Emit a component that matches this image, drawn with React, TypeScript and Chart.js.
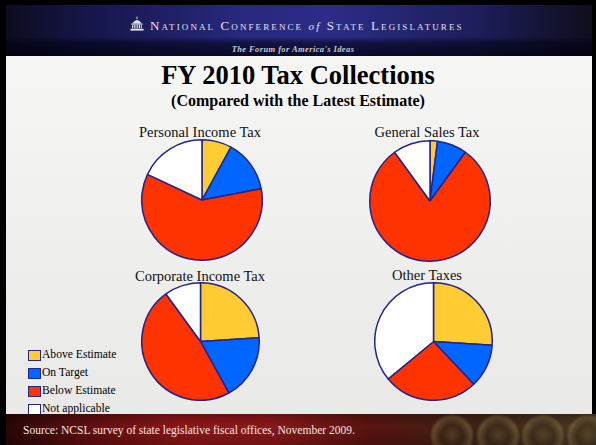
import React, { useEffect, useRef } from 'react';
import { Chart, registerables } from 'chart.js';
Chart.register(...registerables);

const categories = ['Above Estimate', 'On Target', 'Below Estimate', 'Not applicable'];
const sliceColors = ['#FFCC33', '#0066FF', '#FF3300', '#FFFFFF'];
const pieTitles = ['Personal Income Tax', 'General Sales Tax', 'Corporate Income Tax', 'Other Taxes'];
const personalIncome = [4, 7, 30, 9];
const generalSales = [1, 4, 40, 5];
const corporateIncome = [12, 9, 24, 5];
const otherTaxes = [13, 6, 13, 18];

const SERIF = '"Times New Roman", "Liberation Serif", serif';

function Pie({ values, left, top, size }: { values: number[]; left: number; top: number; size: number }) {
  const ref = useRef<HTMLCanvasElement>(null);
  useEffect(() => {
    if (!ref.current) return;
    const chart = new Chart(ref.current, {
      type: 'pie',
      data: {
        labels: categories,
        datasets: [
          {
            data: values,
            backgroundColor: sliceColors,
            borderColor: '#23238c',
            borderWidth: 1.5,
            hoverOffset: 0,
            offset: 0,
          },
        ],
      },
      options: {
        animation: false,
        responsive: false,
        maintainAspectRatio: false,
        layout: { padding: 0 },
        plugins: { legend: { display: false }, tooltip: { enabled: false }, title: { display: false } },
      },
    });
    return () => chart.destroy();
  }, [values]);
  return (
    <canvas
      ref={ref}
      width={size}
      height={size}
      style={{ position: 'absolute', left, top, width: size, height: size }}
    />
  );
}

const abs = (o: React.CSSProperties): React.CSSProperties => ({ position: 'absolute', ...o });

export default function App() {
  const legendTops = [350, 368, 386, 404];
  const pieTitleStyle = (left: number, top: number): React.CSSProperties =>
    abs({ left, width: 200, top, textAlign: 'center', fontSize: 14.5, lineHeight: '17px', color: '#111', whiteSpace: 'nowrap' });
  return (
    <div
      style={{
        position: 'fixed',
        left: 0,
        top: 0,
        width: 596,
        height: 445,
        background: '#000',
        overflow: 'hidden',
        fontFamily: SERIF,
      }}
    >
      {/* header */}
      <div
        style={abs({
          left: 6,
          top: 5,
          width: 586,
          height: 51,
          background:
            'linear-gradient(90deg, #0c0c1e 0%, #16164a 14%, #28287e 40%, #2c2c88 55%, #1e1e5c 80%, #0e0e1c 100%)',
        })}
      />
      <div
        style={abs({
          left: 6,
          top: 5,
          width: 586,
          height: 51,
          background:
            'linear-gradient(180deg, rgba(0,0,0,0) 0%, rgba(0,0,0,0) 62%, rgba(0,0,20,0.55) 74%, rgba(0,0,10,0.75) 100%)',
        })}
      />
      {/* capitol icon */}
      <svg style={abs({ left: 130, top: 16, width: 14, height: 16 })} viewBox="0 0 16 17">
        <rect x="7.5" y="0" width="1" height="3" fill="#e8e8f2" />
        <path d="M2.5 8 Q8 0 13.5 8 Z" fill="#e8e8f2" />
        <rect x="1.5" y="8" width="13" height="1.2" fill="#e8e8f2" />
        {[2, 4, 6, 8, 10, 12].map((x) => (
          <rect key={x} x={x + 0.3} y="9.6" width="1.1" height="4" fill="#e8e8f2" />
        ))}
        <rect x="0.5" y="14" width="15" height="2" fill="#e8e8f2" />
      </svg>
      <div
        style={abs({
          left: 150,
          top: 18,
          fontSize: 13,
          color: '#e4e4ee',
          fontVariant: 'small-caps',
          letterSpacing: 2.1,
          whiteSpace: 'nowrap',
          lineHeight: '15px',
        })}
      >
        National Conference <span style={{ fontStyle: 'italic', fontVariant: 'normal', fontSize: 11 }}>of</span> State Legislatures
      </div>
      <div
        style={abs({
          left: 0,
          width: 586,
          top: 44,
          textAlign: 'center',
          fontSize: 8.5,
          fontStyle: 'italic',
          fontWeight: 'bold',
          color: '#c8c8d0',
          lineHeight: '11px',
          letterSpacing: 0.4,
        })}
      >
        The Forum for America's Ideas
      </div>

      {/* body */}
      <div
        style={abs({
          left: 6,
          top: 56,
          width: 586,
          height: 358,
          background: 'linear-gradient(180deg, #f6f6f4 0%, #efefed 50%, #e9e9e7 100%)',
        })}
      />
      <div
        style={abs({
          left: 0,
          width: 596,
          top: 60,
          textAlign: 'center',
          fontSize: 26.5,
          fontWeight: 'bold',
          color: '#000',
          lineHeight: '30px',
          whiteSpace: 'nowrap',
        })}
      >
        FY 2010 Tax Collections
      </div>
      <div
        style={abs({
          left: 0,
          width: 596,
          top: 92,
          textAlign: 'center',
          fontSize: 16,
          fontWeight: 'bold',
          color: '#000',
          lineHeight: '18px',
          whiteSpace: 'nowrap',
        })}
      >
        (Compared with the Latest Estimate)
      </div>

      {/* pie titles */}
      <div style={pieTitleStyle(100, 124)}>{pieTitles[0]}</div>
      <div style={pieTitleStyle(327, 124)}>{pieTitles[1]}</div>
      <div style={pieTitleStyle(100, 268)}>{pieTitles[2]}</div>
      <div style={pieTitleStyle(327, 267)}>{pieTitles[3]}</div>

      <Pie values={personalIncome} left={141} top={139} size={122} />
      <Pie values={generalSales} left={369} top={140} size={122} />
      <Pie values={corporateIncome} left={141} top={282} size={119} />
      <Pie values={otherTaxes} left={374} top={282} size={119} />

      {/* legend */}
      {categories.map((c, i) => (
        <React.Fragment key={c}>
          <div
            style={abs({
              left: 28,
              top: legendTops[i],
              width: 11,
              height: 9,
              background: sliceColors[i],
              border: '1px solid #23238c',
            })}
          />
          <div
            style={abs({
              left: 42,
              top: legendTops[i] - 2,
              fontSize: 11.6,
              lineHeight: '14px',
              color: '#000',
              whiteSpace: 'nowrap',
            })}
          >
            {c}
          </div>
        </React.Fragment>
      ))}

      {/* footer */}
      <div
        style={abs({
          left: 6,
          top: 414,
          width: 590,
          height: 31,
          background:
            'linear-gradient(90deg, #2a0606 0%, #5a0e0e 12%, #8e1616 30%, #8a1818 45%, #5a1410 62%, #3e2214 78%, #4a3a24 100%)',
        })}
      />
      {[452, 498, 543, 588].map((cx) => (
        <div
          key={cx}
          style={abs({
            left: cx - 22,
            top: 414,
            width: 44,
            height: 44,
            borderRadius: '50%',
            background:
              'radial-gradient(circle at 50% 50%, rgba(110,90,55,0.55) 0%, rgba(60,45,25,0.4) 35%, rgba(140,115,70,0.5) 60%, rgba(40,28,16,0.3) 75%, rgba(0,0,0,0) 100%)',
          })}
        />
      ))}
      <div
        style={abs({
          left: 6,
          top: 414,
          width: 590,
          height: 31,
          background: 'linear-gradient(180deg, rgba(0,0,0,0.25) 0%, rgba(0,0,0,0) 40%, rgba(0,0,0,0.2) 100%)',
        })}
      />
      <div
        style={abs({
          left: 23,
          top: 423,
          fontSize: 11.5,
          lineHeight: '14px',
          color: '#f2e6e6',
          whiteSpace: 'nowrap',
        })}
      >
        Source: NCSL survey of state legislative fiscal offices, November 2009.
      </div>
    </div>
  );
}
